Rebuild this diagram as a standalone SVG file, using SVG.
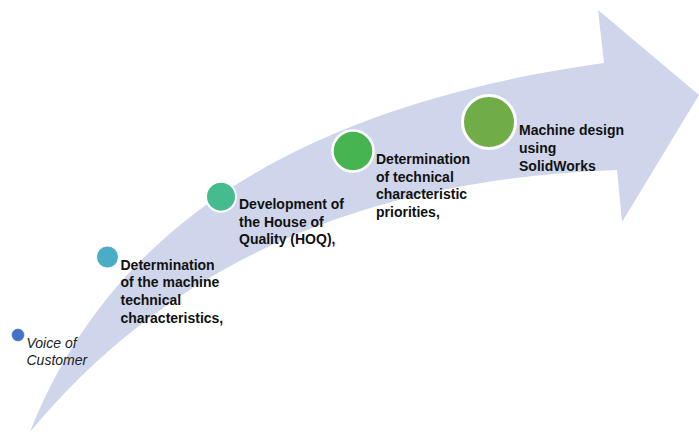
<svg xmlns="http://www.w3.org/2000/svg" width="699" height="432" viewBox="0 0 699 432">
<style>
  .lbl { font-family: "Liberation Sans", Arial, sans-serif; font-size: 14px; font-weight: bold; fill: #111111; }
  .it { font-family: "Liberation Sans", Arial, sans-serif; font-size: 14px; font-style: italic; fill: #222222; }
  .dot { stroke: #ffffff; }
</style>
<rect width="699" height="432" fill="#ffffff"/>
<g id="arrow">
  <path d="M30,432 C90,280 230,115 604,63 L598,10 L699,95 L622,222 L617,170 C400,178 190,240 30,432 Z" fill="#CFD5EA"/>
</g>
<g id="node-voice">
  <circle class="dot" cx="18" cy="335" r="6.5" fill="#4472C4" stroke-width="0.5"/>
  <text class="it" x="26.5" y="347.5">Voice of</text>
  <text class="it" x="26.5" y="365">Customer</text>
</g>
<g id="node-characteristics">
  <circle class="dot" cx="107.5" cy="257" r="11" fill="#4BACC6" stroke-width="1"/>
  <text class="lbl" x="120.5" y="269.5">Determination</text>
  <text class="lbl" x="120.5" y="287.3">of the machine</text>
  <text class="lbl" x="120.5" y="305">technical</text>
  <text class="lbl" x="120.5" y="322.7">characteristics,</text>
</g>
<g id="node-hoq">
  <circle class="dot" cx="221" cy="196.7" r="15" fill="#45BC8D" stroke-width="2"/>
  <text class="lbl" x="239" y="209">Development of</text>
  <text class="lbl" x="239" y="226.7">the House of</text>
  <text class="lbl" x="239" y="244.3">Quality (HOQ),</text>
</g>
<g id="node-priorities">
  <circle class="dot" cx="353" cy="151" r="20.5" fill="#46B450" stroke-width="2.5"/>
  <text class="lbl" x="376" y="164">Determination</text>
  <text class="lbl" x="376" y="181.7">of technical</text>
  <text class="lbl" x="376" y="199.3">characteristic</text>
  <text class="lbl" x="376" y="217">priorities,</text>
</g>
<g id="node-design">
  <circle class="dot" cx="489" cy="122" r="26.5" fill="#70AD47" stroke-width="3"/>
  <text class="lbl" x="519" y="135">Machine design</text>
  <text class="lbl" x="519" y="152.7">using</text>
  <text class="lbl" x="519" y="170.5">SolidWorks</text>
</g>
<g id="connectors"></g>
</svg>
